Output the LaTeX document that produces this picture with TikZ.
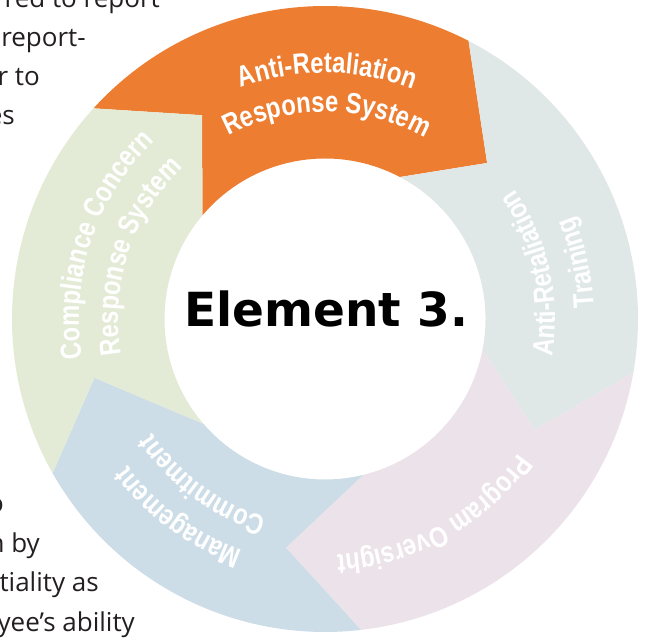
\documentclass[tikz,border=0pt]{standalone}
\usepackage{fontspec}
\setmainfont{Open Sans}
\newfontfamily\lblfont[FakeStretch=0.82]{Liberation Sans Bold}
\newfontfamily\titlefont{DejaVu Sans}
\usetikzlibrary{decorations.text}

\definecolor{segorange}{RGB}{237,125,49}
\definecolor{seggray}{RGB}{224,232,231}
\definecolor{segpink}{RGB}{236,226,233}
\definecolor{segblue}{RGB}{204,221,231}
\definecolor{seggreen}{RGB}{227,235,214}
\definecolor{bodytext}{RGB}{35,31,32}

\def\Ro{313}
\def\Ri{160.5}

% label set along an arc, centred on it
\newcommand{\arclabel}[4]{%
  \path[decorate, decoration={text along path, text align=center, text color=white,
    text={|\lblfont\fontsize{29}{31}\selectfont|#4}}]
    (#1:#3) arc[start angle=#1, end angle=#2, radius=#3];}

\begin{document}
\begin{tikzpicture}[x=1pt, y=1pt,
    pagetext/.style={anchor=base east, inner sep=0pt, text=bodytext, font=\fontsize{26}{39}\selectfont}]
  \useasboundingbox (-325,-325) rectangle (320,319);
  \clip (-325,-325) rectangle (320,319);

  % text of the page behind the ring
  \node[pagetext] (line1) at (-165,311) {red to report};
  \node[pagetext] (line2) at (-239,272) {report-};
  \node[pagetext] (line3) at (-285,233) {r to};
  \node[pagetext] (line4) at (-310,194) {es};
  \node[pagetext] (line5) at (-321,-194) {o};
  \node[pagetext] (line6) at (-285,-233.5) {n by};
  \node[pagetext] (line7) at (-226,-273) {tiality as};
  \node[pagetext] (line8) at (-190,-312.5) {yee’s ability};

  % the five arrows of the ring
  \fill[segorange] (137.7:\Ro) arc[start angle=137.7, end angle=62.7, radius=\Ro]
    -- (43.9:225) -- (62.2:\Ri) arc[start angle=62.2, end angle=139.8, radius=\Ri]
    -- (121.1:238) -- cycle;
  \fill[seggray] (62.7:\Ro) arc[start angle=62.7, end angle=-9.9, radius=\Ro]
    -- (-27.9:237) -- (-11:\Ri) arc[start angle=-11, end angle=62.2, radius=\Ri]
    -- (43.9:225) -- cycle;
  \fill[segpink] (-9.9:\Ro) arc[start angle=-9.9, end angle=-83.4, radius=\Ro]
    -- (-99.7:232) -- (-76.2:\Ri) arc[start angle=-76.2, end angle=-11, radius=\Ri]
    -- (-27.9:237) -- cycle;
  \fill[segblue] (-83.4:\Ro) arc[start angle=-83.4, end angle=-150.5, radius=\Ro]
    -- (-165.7:238) -- (-139.3:\Ri) arc[start angle=-139.3, end angle=-76.2, radius=\Ri]
    -- (-99.7:232) -- cycle;
  \fill[seggreen] (-150.5:\Ro) arc[start angle=-150.5, end angle=-222.3, radius=\Ro]
    -- (121.1:238) -- (139.8:\Ri) arc[start angle=139.8, end angle=220.7, radius=\Ri]
    -- (-165.7:238) -- cycle;

  % labels
  \arclabel{149.5}{29.5}{246}{Anti-Retaliation}
  \arclabel{149.5}{29.5}{207}{Response System}
  \arclabel{-47.5}{72.5}{230}{Anti-Retaliation}
  \arclabel{-47.5}{72.5}{269}{Training}
  \arclabel{-1}{-121}{236}{Program Oversight}
  \arclabel{-66.5}{-186.5}{246}{Management}
  \arclabel{-66.5}{-186.5}{207}{Commitment}
  \arclabel{221.5}{101.5}{246}{Compliance Concern}
  \arclabel{221.5}{101.5}{207}{Response System}

  \node[anchor=base, inner sep=0pt, font=\titlefont\bfseries\fontsize{47}{50}\selectfont]
    (title) at (1.5,-8) {Element 3.};
\end{tikzpicture}
\end{document}
